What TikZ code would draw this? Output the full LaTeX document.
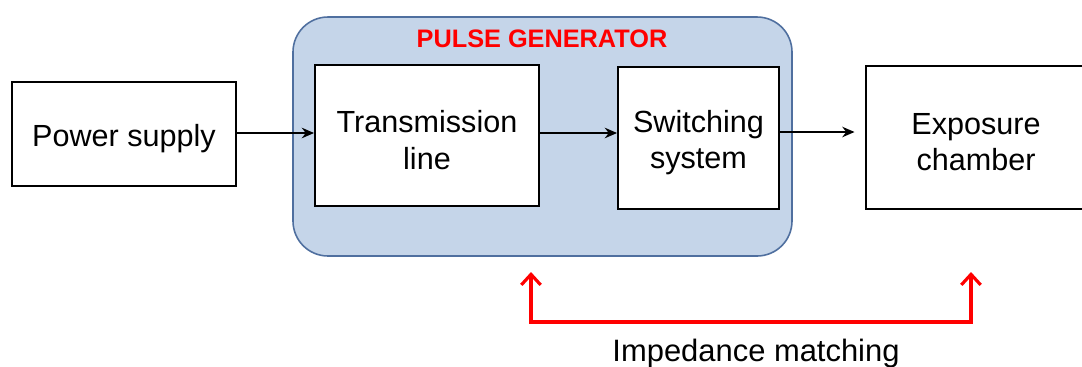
\documentclass[tikz,border=0pt]{standalone}
\usepackage{fontspec}
\setmainfont{Liberation Sans}
\usetikzlibrary{arrows.meta}

\definecolor{genfill}{HTML}{C5D5E9}
\definecolor{gendraw}{HTML}{4F6F9F}
\newcommand{\lowtxt}[1]{\raisebox{-2.6pt}[\height][\depth]{#1}}

\tikzset{
  block/.style={draw=black, line width=1.1pt, fill=white, align=center,
    font=\fontsize{17.4}{20.5}\selectfont},
  flow/.style={line width=0.85pt, -{Stealth[length=7pt,width=6pt]}},
  imparrow/.style={red, line width=1.8pt,
    {Straight Barb[length=6pt,width=11pt]}-{Straight Barb[length=6pt,width=11pt]}}
}

\begin{document}
\begin{tikzpicture}[x=0.02cm, y=-0.02cm]
    \clip (0,0) rectangle (1082,366);
    \fill[white] (0,0) rectangle (1082,366);

    % pulse generator frame
    \draw[gendraw, fill=genfill, line width=0.9pt, rounded corners=0.7cm]
        (293,17) rectangle (792,256);
    \node[red, font=\fontsize{14.4}{17}\selectfont\bfseries] (title) at (542,39) {PULSE GENERATOR};

    % blocks
    \node[block, minimum width=4.48cm, minimum height=2.08cm] (power) at (124,134) {\lowtxt{Power supply}};
    \node[block, minimum width=4.48cm, minimum height=2.82cm] (tline) at (427,135.5) {\lowtxt{Transmission}\\\lowtxt{line}};
    \node[block, minimum width=3.22cm, minimum height=2.84cm] (switch) at (698.5,138) {\lowtxt{Switching}\\\lowtxt{system}};
    \node[block, minimum width=4.4cm, minimum height=2.86cm] (chamber) at (976,137.5) {\lowtxt{Exposure}\\\lowtxt{chamber}};

    % signal path
    \draw[flow] (power.east |- 0,133) -- (tline.west |- 0,133);
    \draw[flow] (tline.east |- 0,133) -- (switch.west |- 0,133);
    \draw[flow, shorten >=6pt] (switch.east |- 0,132) -- (chamber.west |- 0,132);

    % impedance matching
    \coordinate (imp1) at (531,272);
    \coordinate (imp2) at (971,272);
    \draw[imparrow] (imp1) -- ++(0,50) -| (imp2);
    \node[font=\fontsize{17.6}{20}\selectfont] (match) at (756,353) {Impedance matching};
\end{tikzpicture}
\end{document}
